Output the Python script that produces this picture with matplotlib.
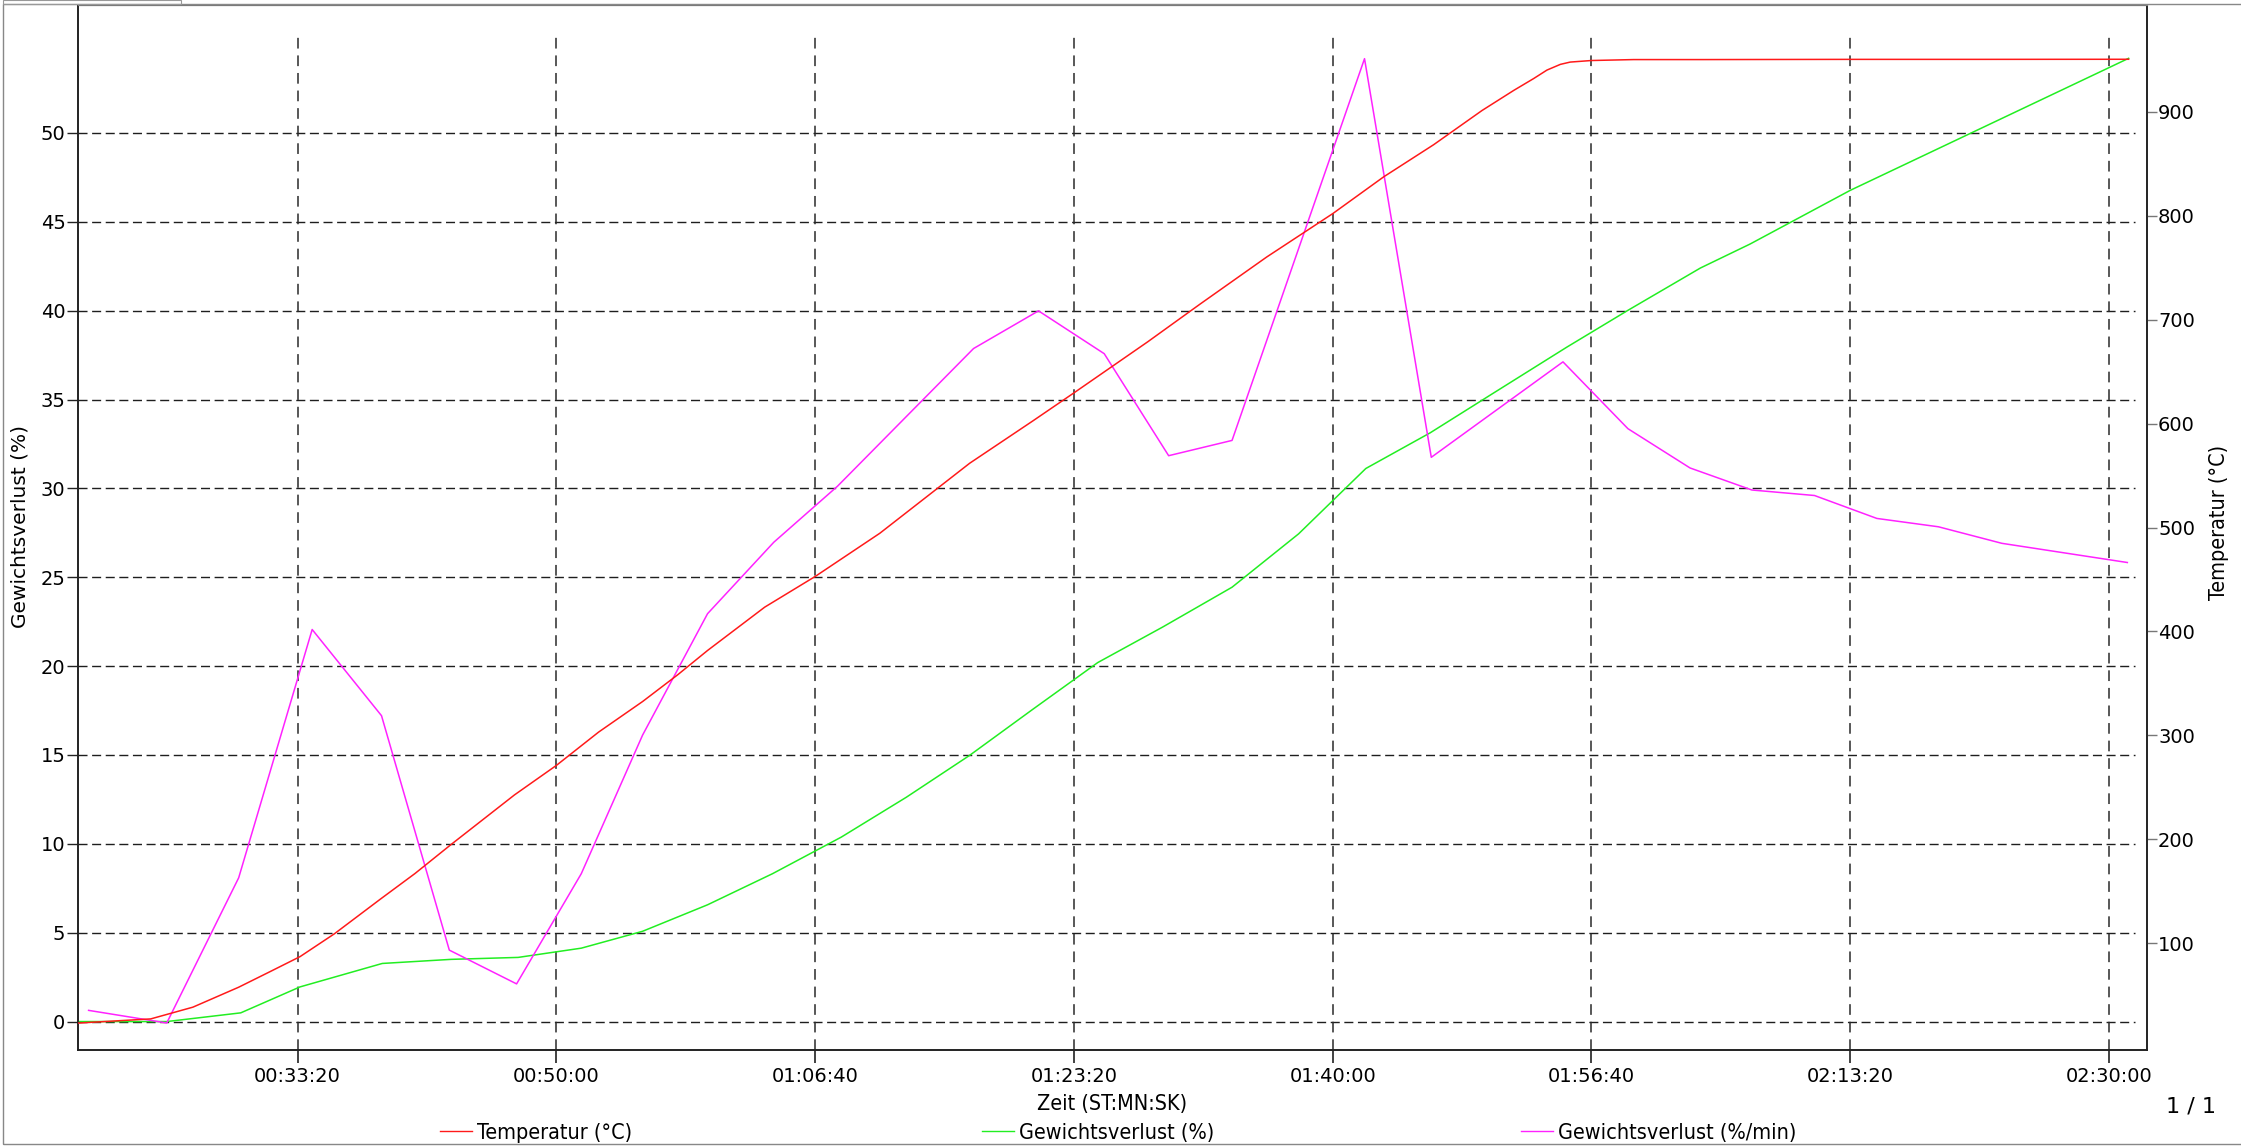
#!/usr/bin/env python3
# -*- coding: utf-8 -*-
"""
TGA-Auswertung: Temperatur, Gewichtsverlust (%) und Gewichtsverlust (%/min)
ueber der Zeit, als Nachbau des Export-Diagramms.
"""

import matplotlib
matplotlib.use('Agg')
import matplotlib.pyplot as plt
from matplotlib import font_manager
from matplotlib.lines import Line2D
from matplotlib.patches import Rectangle
from matplotlib.ticker import FuncFormatter

# Daten (Zeit in Sekunden)
zeit_temp = [1151, 1432, 1595, 1772, 1891, 2009, 2142, 2320, 2453, 2593,
             2838, 3000, 3163, 3333, 3470, 3584, 3805, 4000, 4250, 4597,
             4841, 5000, 5285, 5488, 5745, 6000, 6197, 6390, 6577, 6700,
             6777, 6828, 6880, 6918, 7000, 7163, 7421, 8000, 8500, 9076]
temperatur = [23.3, 27.3, 38.6, 57.8, 72.5, 87.2, 109.2, 142.6, 167.1, 195.1,
              242.8, 271.2, 303.2, 332.6, 358.6, 381.7, 423.4, 452.9, 494.5, 561.8,
              602.5, 629.5, 678.6, 715.0, 760.2, 801.9, 837.3, 868.2, 901.1, 920.5,
              931.9, 940.0, 945.5, 947.7, 949.2, 950.1, 950.1, 950.3, 950.3, 950.4]

zeit_verlust = [1151, 1494, 1780, 2009, 2327, 2593, 2852, 3096, 3333, 3584,
                3835, 4101, 4352, 4596, 4840, 5092, 5343, 5611, 5868, 6128,
                6377, 6622, 6905, 7141, 7421, 7613, 8000, 9076]
verlust = [0.0, 0.0, 0.49, 1.95, 3.27, 3.50, 3.61, 4.13, 5.08, 6.57,
           8.32, 10.38, 12.62, 14.97, 17.56, 20.20, 22.20, 24.44, 27.44, 31.12,
           33.13, 35.37, 37.95, 40.02, 42.40, 43.75, 46.77, 54.20]

zeit_rate = [1192, 1494, 1772, 2056, 2324, 2586, 2846, 3096, 3333, 3584,
             3840, 4086, 4612, 4863, 5117, 5366, 5611, 6123, 6381, 6615,
             6890, 7141, 7381, 7620, 7862, 8103, 8341, 8586, 9071]
verlust_rate = [0.63, -0.08, 8.09, 22.06, 17.21, 4.02, 2.12, 8.32, 16.12, 22.95,
                26.97, 30.12, 37.87, 39.99, 37.58, 31.84, 32.70, 54.18, 31.75, 34.22,
                37.12, 33.36, 31.15, 29.91, 29.60, 28.31, 27.84, 26.91, 25.83]

x_ticks = [2000, 3000, 4000, 5000, 6000, 7000, 8000, 9000]
y_ticks_links = list(range(0, 55, 5))
y_ticks_rechts = list(range(100, 1000, 100))
labels_serien = ['Temperatur (°C)', 'Gewichtsverlust (%)', 'Gewichtsverlust (%/min)']

# Schrift: schmale Schrift fuer Legende/Achsentitel, falls vorhanden
plt.rcParams['font.family'] = 'DejaVu Sans'
vorhandene = {f.name for f in font_manager.fontManager.ttflist}
if 'Liberation Sans Narrow' in vorhandene:
    SCHMAL = dict(family='Liberation Sans Narrow', size=19.5)
else:
    SCHMAL = dict(family='DejaVu Sans', stretch='condensed', size=15.5)

W, H = 2241, 1147


def hms(sek, pos=None):
    """Sekunden -> HH:MM:SS"""
    sek = int(round(sek))
    return f'{sek // 3600:02d}:{(sek % 3600) // 60:02d}:{sek % 60:02d}'


def main():
    fig = plt.figure(figsize=(W / 100, H / 100), dpi=100)
    fig.patch.set_facecolor('white')

    # Achsen-Position in Pixeln der Vorlage
    links, rechts, oben, unten = 78, 2147, 5, 1050
    ax = fig.add_axes([links / W, 1 - unten / H, (rechts - links) / W, (unten - oben) / H])
    ax2 = ax.twinx()

    ax.set_xlim(1151, 9147)
    ax.set_ylim(-1.6, 57.2)
    ax2.set_ylim(-2.6, 1002.6)

    # Gitter (gestrichelt, endet etwas vor dem Rahmen)
    for y in y_ticks_links:
        ax.axhline(y, xmin=0, xmax=0.994, color='#1e1e1e', lw=1.0,
                   linestyle=(0, (6.5, 3.3)), zorder=1)
    for x in x_ticks:
        ax.axvline(x, ymin=0, ymax=0.974, color='#2a2a2a', lw=1.1,
                   linestyle=(0, (7, 4.5)), zorder=1)

    # Kurven
    l_temp, = ax2.plot(zeit_temp, temperatur, color='#ff1a1a', lw=1.1, zorder=3)
    l_verl, = ax.plot(zeit_verlust, verlust, color='#22ee22', lw=1.1, zorder=3)
    l_rate, = ax.plot(zeit_rate, verlust_rate, color='#ff22ff', lw=1.1, zorder=3)

    # Achsen-Formatierung
    ax.set_xticks(x_ticks)
    ax.xaxis.set_major_formatter(FuncFormatter(hms))
    ax.set_yticks(y_ticks_links)
    ax2.set_yticks(y_ticks_rechts)

    ax.tick_params(axis='x', direction='out', length=9.5, width=1.3,
                   color='#333333', pad=3, labelsize=14)
    ax.tick_params(axis='y', direction='out', length=8, width=1.0,
                   color='#222222', pad=1, labelsize=14)
    ax2.tick_params(axis='y', direction='out', length=7, width=1.0,
                    color='#777777', pad=1, labelsize=14)

    for a in (ax, ax2):
        for spine in ['left', 'bottom', 'right']:
            a.spines[spine].set_color('#222222')
            a.spines[spine].set_linewidth(1.2)
        a.spines['top'].set_color('#777777')

    # Achsentitel
    fig.text(20 / W, 1 - 527 / H, 'Gewichtsverlust (%)', rotation=90,
             ha='center', va='center', fontsize=14.5)
    fig.text(2219 / W, 1 - 522 / H, 'Temperatur (°C)', rotation=90,
             ha='center', va='center', **SCHMAL)
    fig.text(1112 / W, 1 - 1104 / H, 'Zeit (ST:MN:SK)',
             ha='center', va='center', **SCHMAL)
    fig.text(2191 / W, 1 - 1106 / H, '1 / 1', ha='center', va='center', fontsize=16)

    # Legende: drei Eintraege an festen Positionen
    prop = font_manager.FontProperties(**SCHMAL)
    for linie, text, xpix in zip([l_temp, l_verl, l_rate], labels_serien, [440, 982, 1521]):
        h = Line2D([], [], color=linie.get_color(), lw=1.0)
        fig.legend([h], [text], loc='center left',
                   bbox_to_anchor=(xpix / W, 1 - 1133 / H), frameon=False,
                   prop=prop, handlelength=1.5, handletextpad=0.2,
                   borderpad=0, borderaxespad=0)

    # Rahmen der Export-Seite
    fig.add_artist(Rectangle((2.5 / W, 1 - 1144 / H), (W + 5) / W, (1144 - 4) / H,
                             transform=fig.transFigure, fill=False,
                             edgecolor='#888888', lw=1.0))
    fig.add_artist(Rectangle((3 / W, 1 - 3.5 / H), 178 / W, 3.5 / H,
                             transform=fig.transFigure, fill=False,
                             edgecolor='#999999', lw=0.8))

    fig.savefig('out.png', dpi=100, facecolor='white')
    plt.close(fig)


if __name__ == '__main__':
    main()
